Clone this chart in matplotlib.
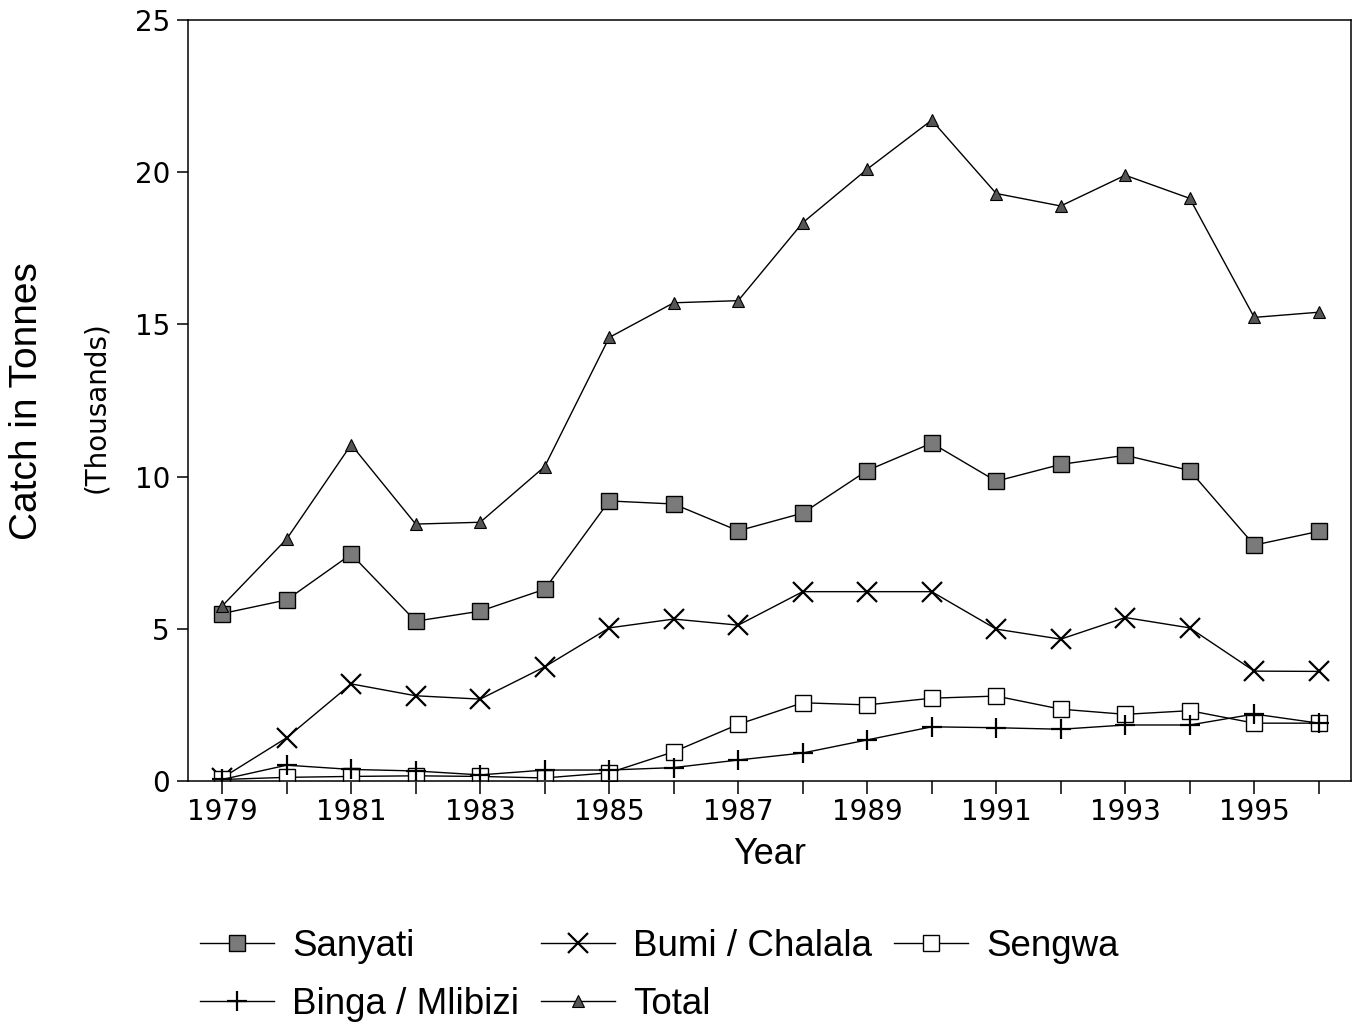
import numpy as np
import matplotlib
matplotlib.use("Agg")
import matplotlib.pyplot as plt

# Catch per fishing area, thousands of tonnes
years = list(range(1979, 1997))
sanyati = [5.5, 5.95, 7.45, 5.25, 5.58, 6.3, 9.2, 9.1, 8.22, 8.8, 10.2, 11.1, 9.85, 10.4, 10.7, 10.2, 7.75, 8.2]
bumi = [0.1, 1.42, 3.19, 2.8, 2.69, 3.75, 5.03, 5.32, 5.12, 6.22, 6.22, 6.22, 4.99, 4.66, 5.37, 5.03, 3.61, 3.6]
sengwa = [0.05, 0.12, 0.15, 0.17, 0.15, 0.1, 0.27, 0.96, 1.86, 2.57, 2.5, 2.72, 2.79, 2.36, 2.19, 2.31, 1.9, 1.9]
binga = [0.05, 0.52, 0.38, 0.33, 0.2, 0.36, 0.36, 0.44, 0.69, 0.92, 1.35, 1.78, 1.75, 1.7, 1.84, 1.84, 2.2, 1.9]
total = [5.75, 7.95, 11.05, 8.44, 8.5, 10.33, 14.57, 15.71, 15.78, 18.34, 20.1, 21.71, 19.3, 18.89, 19.9, 19.14, 15.23, 15.4]

tick_labels = [str(y) if y % 2 == 1 else "" for y in years]

fig = plt.figure(figsize=(13.57, 10.30), dpi=100)
ax = fig.add_axes([188/1357, 1-781/1030, (1351-188)/1357, (781-20)/1030])

lw = 1.0
h_san, = ax.plot(years, sanyati, color="black", lw=lw, marker="s", ms=11,
                 mfc="#7a7a7a", mec="black", mew=1.0, label="Sanyati")
h_bumi, = ax.plot(years, bumi, color="black", lw=lw, marker="x", ms=15,
                  mew=1.6, label="Bumi / Chalala")
h_sen, = ax.plot(years, sengwa, color="black", lw=lw, marker="s", ms=11,
                 mfc="white", mec="black", mew=1.0, label="Sengwa")
h_bin, = ax.plot(years, binga, color="black", lw=lw, marker="+", ms=14,
                 mew=1.6, label="Binga / Mlibizi")
h_tot, = ax.plot(years, total, color="black", lw=lw, marker="^", ms=9,
                 mfc="#555555", mec="black", mew=0.8, label="Total")

ax.set_xlim(1978.47, 1996.5)
ax.set_ylim(0, 25)
ax.set_xticks(years)
ax.set_xticklabels(tick_labels, fontsize=20, family="DejaVu Sans")
ax.set_yticks([0, 5, 10, 15, 20, 25])
ax.set_yticklabels(["0", "5", "10", "15", "20", "25"], fontsize=20, family="DejaVu Sans")
ax.tick_params(axis="x", direction="out", length=9, width=1.1, pad=3)
ax.tick_params(axis="y", direction="out", length=8, width=1.1, pad=5)
for s in ax.spines.values():
    s.set_linewidth(1.1)

fig.text(27/1357, 1-401/1030, "Catch in Tonnes", rotation=90, ha="center", va="center",
         fontsize=28, family="Liberation Sans")
fig.text(96/1357, 1-407/1030, "(Thousands)", rotation=90, ha="center", va="center",
         fontsize=20, family="DejaVu Sans")
fig.text(770/1357, 1-855/1030, "Year", ha="center", va="center",
         fontsize=26, family="Liberation Sans")

# row-wise order in a 3 column legend
handles = [h_san, h_bin, h_bumi, h_tot, h_sen]
fig.legend(handles, [h.get_label() for h in handles], ncol=3, frameon=False,
           loc="upper left", bbox_to_anchor=(200/1357, 1-929/1030),
           prop={"family": "Liberation Sans", "size": 26.5},
           handlelength=2.0, handletextpad=0.5, columnspacing=0.6,
           labelspacing=0.62, borderaxespad=0, borderpad=0)

fig.savefig("out.png", dpi=100)
